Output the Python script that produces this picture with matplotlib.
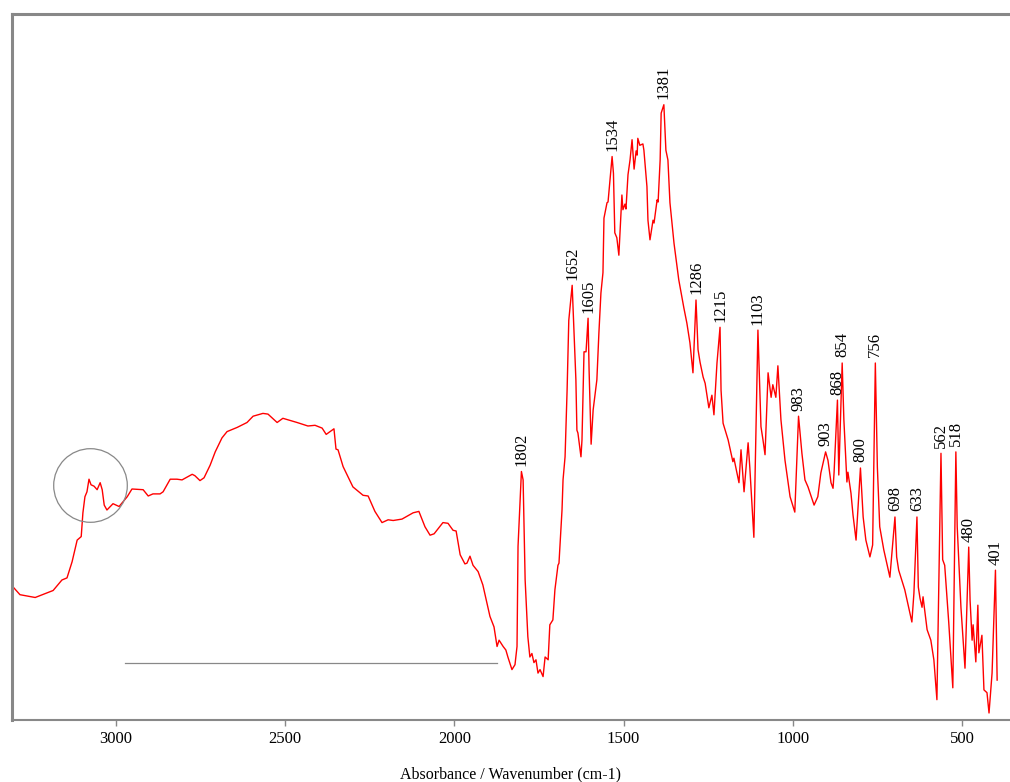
import matplotlib
matplotlib.use('Agg')
from matplotlib import pyplot as plt

# spectrum (wavenumber in cm-1, absorbance in a.u.)
wavenumber = [
    3308, 3284, 3239, 3186, 3160, 3145, 3130, 3115, 3103, 3098, 3092, 3086,
    3080, 3074, 3065, 3056, 3047, 3041, 3035, 3027, 3009, 2991, 2967, 2953,
    2920, 2905, 2891, 2870, 2861, 2840, 2820, 2805, 2775, 2767, 2752, 2740,
    2722, 2707, 2687, 2672, 2642, 2613, 2595, 2566, 2551, 2524, 2507, 2465,
    2433, 2412, 2391, 2379, 2362, 2356, 2350, 2344, 2329, 2300, 2270, 2255,
    2235, 2214, 2196, 2181, 2155, 2122, 2105, 2087, 2072, 2060, 2034, 2019,
    2004, 1995, 1983, 1969, 1963, 1954, 1945, 1930, 1916, 1895, 1883, 1874,
    1868, 1856, 1848, 1842, 1830, 1821, 1815, 1812, 1802, 1797, 1791, 1783,
    1777, 1771, 1765, 1759, 1753, 1747, 1738, 1732, 1723, 1718, 1709, 1703,
    1694, 1691, 1682, 1679, 1673, 1667, 1662, 1652, 1641, 1638, 1635, 1626,
    1623, 1617, 1611, 1605, 1602, 1596, 1590, 1579, 1573, 1567, 1561, 1558,
    1549, 1546, 1534, 1530, 1526, 1520, 1514, 1505, 1502, 1496, 1493, 1487,
    1481, 1475, 1469, 1463, 1460, 1458, 1452, 1443, 1440, 1431, 1428, 1422,
    1413, 1410, 1401, 1398, 1392, 1389, 1381, 1375, 1369, 1363, 1351, 1337,
    1322, 1313, 1304, 1295, 1286, 1280, 1274, 1265, 1259, 1248, 1239, 1233,
    1224, 1215, 1212, 1206, 1191, 1177, 1174, 1159, 1153, 1144, 1132, 1127,
    1115, 1103, 1094, 1088, 1082, 1073, 1064, 1059, 1050, 1044, 1035, 1023,
    1008, 994, 983, 973, 964, 955, 937, 926, 917, 903, 896, 887, 881, 878,
    868, 864, 854, 849, 840, 837, 828, 822, 813, 800, 792, 784, 772, 764,
    756, 750, 743, 731, 713, 698, 693, 687, 669, 648, 642, 633, 629, 624,
    618, 615, 603, 592, 583, 574, 562, 557, 551, 539, 527, 518, 514, 503,
    491, 480, 476, 470, 467, 459, 453, 450, 441, 435, 426, 420, 411, 401, 396,
]
absorbance = [
    0.192, 0.179, 0.175, 0.185, 0.200, 0.203, 0.226, 0.257, 0.262, 0.296, 0.319, 0.326,
    0.344, 0.336, 0.334, 0.329, 0.339, 0.329, 0.307, 0.300, 0.309, 0.305, 0.319, 0.330,
    0.329, 0.320, 0.323, 0.323, 0.326, 0.344, 0.344, 0.343, 0.351, 0.349, 0.342, 0.346,
    0.364, 0.383, 0.403, 0.412, 0.418, 0.425, 0.434, 0.438, 0.437, 0.425, 0.431, 0.425,
    0.420, 0.421, 0.417, 0.408, 0.414, 0.416, 0.387, 0.386, 0.362, 0.333, 0.321, 0.320,
    0.298, 0.282, 0.286, 0.285, 0.287, 0.296, 0.298, 0.276, 0.264, 0.266, 0.282, 0.281,
    0.271, 0.270, 0.236, 0.223, 0.224, 0.234, 0.221, 0.212, 0.193, 0.148, 0.133, 0.105,
    0.114, 0.105, 0.100, 0.090, 0.072, 0.079, 0.105, 0.248, 0.355, 0.343, 0.200, 0.119,
    0.090, 0.095, 0.082, 0.086, 0.067, 0.072, 0.062, 0.090, 0.086, 0.136, 0.143, 0.186,
    0.221, 0.224, 0.300, 0.343, 0.376, 0.471, 0.571, 0.621, 0.486, 0.414, 0.410, 0.376,
    0.400, 0.526, 0.526, 0.574, 0.500, 0.394, 0.443, 0.486, 0.553, 0.610, 0.639, 0.717,
    0.739, 0.740, 0.805, 0.781, 0.696, 0.689, 0.664, 0.750, 0.729, 0.737, 0.730, 0.779,
    0.800, 0.829, 0.787, 0.813, 0.807, 0.831, 0.821, 0.823, 0.814, 0.762, 0.714, 0.686,
    0.714, 0.710, 0.743, 0.740, 0.800, 0.867, 0.879, 0.814, 0.800, 0.739, 0.681, 0.629,
    0.589, 0.567, 0.539, 0.496, 0.600, 0.529, 0.511, 0.490, 0.481, 0.446, 0.464, 0.436,
    0.510, 0.561, 0.471, 0.424, 0.400, 0.369, 0.374, 0.339, 0.386, 0.326, 0.396, 0.361,
    0.261, 0.557, 0.419, 0.400, 0.379, 0.496, 0.461, 0.479, 0.461, 0.506, 0.429, 0.371,
    0.319, 0.297, 0.434, 0.381, 0.343, 0.333, 0.307, 0.319, 0.353, 0.383, 0.371, 0.339, 0.331, 0.353,
    0.457, 0.350, 0.510, 0.429, 0.340, 0.354, 0.324, 0.293, 0.257, 0.360, 0.290, 0.257, 0.233, 0.250,
    0.510, 0.361, 0.276, 0.243, 0.204, 0.290, 0.233, 0.214, 0.186, 0.140, 0.181, 0.290, 0.190, 0.174,
    0.161, 0.176, 0.129, 0.114, 0.086, 0.029, 0.381, 0.229, 0.221, 0.139, 0.046, 0.383, 0.276, 0.161,
    0.074, 0.247, 0.171, 0.114, 0.136, 0.083, 0.164, 0.096, 0.121, 0.043, 0.039, 0.010, 0.067, 0.214, 0.057,
]

# labelled peaks
peaks = [1802, 1652, 1605, 1534, 1381, 1286, 1215, 1103, 983, 903, 868,
         854, 800, 756, 698, 633, 562, 518, 480, 401]

# baseline marker and circled region
base_wn = [2973, 1874]
base_abs = [0.081, 0.081]
circle_wn = 3077
circle_abs = 0.336

plt.rcParams['font.family'] = ['Liberation Serif', 'DejaVu Serif']
frame_color = '#888888'

fig = plt.figure(figsize=(10.1, 7.82), dpi=100)
ax = fig.add_axes([0.0114, 0.0793, 0.9886, 0.9028])

ax.plot(wavenumber, absorbance, color='#ff0000', linewidth=1.0)

for p in peaks:
    a = absorbance[wavenumber.index(p)]
    ax.annotate(str(p), xy=(p, a), xytext=(0, 4), textcoords='offset points',
                rotation=90, ha='center', va='bottom', fontsize=12)

ax.plot(base_wn, base_abs, color=frame_color, linewidth=0.9)
ax.plot([circle_wn], [circle_abs], marker='o', markersize=53,
        markerfacecolor='none', markeredgecolor=frame_color,
        markeredgewidth=0.9, linestyle='none')

ax.set_xlim(3309, 358)
ax.set_ylim(0, 1.0086)
ax.set_xticks([3000, 2500, 2000, 1500, 1000, 500])
ax.set_yticks([])
ax.tick_params(axis='x', direction='out', length=4, width=1,
               color=frame_color, labelsize=12, pad=4)
ax.set_xlabel('Absorbance / Wavenumber (cm-1)', fontsize=11.5, labelpad=14)

ax.spines['right'].set_visible(False)
ax.spines['top'].set_color(frame_color)
ax.spines['top'].set_linewidth(2.2)
ax.spines['left'].set_color(frame_color)
ax.spines['left'].set_linewidth(2.2)
ax.spines['bottom'].set_color(frame_color)
ax.spines['bottom'].set_linewidth(1.5)

fig.savefig('out.png', dpi=100)
